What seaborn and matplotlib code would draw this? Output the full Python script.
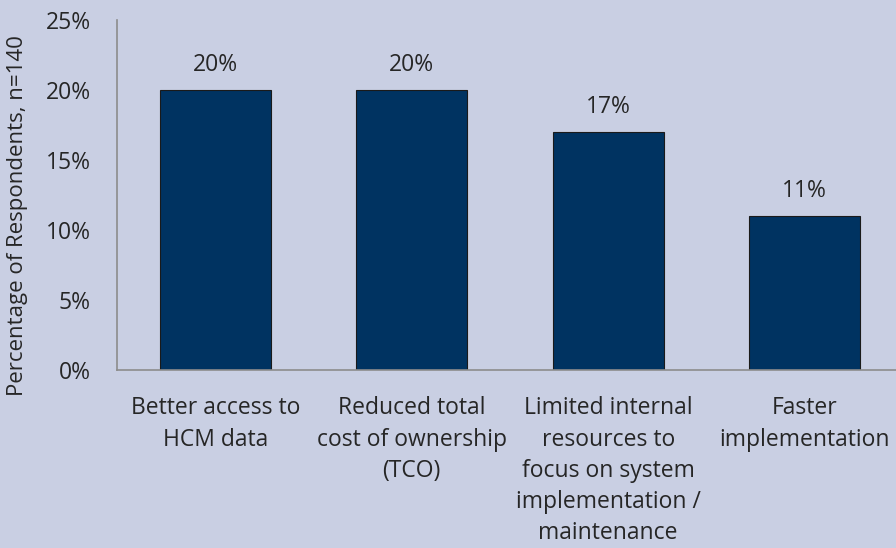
import matplotlib
matplotlib.use("Agg")
import matplotlib.pyplot as plt
import seaborn as sns
import pandas as pd

categories = [
    "Better access to\nHCM data",
    "Reduced total\ncost of ownership\n(TCO)",
    "Limited internal\nresources to\nfocus on system\nimplementation /\nmaintenance",
    "Faster\nimplementation",
]
values = [20, 20, 17, 11]
y_ticks = [0, 5, 10, 15, 20, 25]
y_label = "Percentage of Respondents, n=140"

bg = "#C9CFE3"
bar_color = "#003361"
text_color = "#262626"
fs = 16.5

sns.set_theme(style="white")
plt.rcParams["font.family"] = ["Open Sans", "DejaVu Sans"]

df = pd.DataFrame({"category": categories, "value": values})

fig = plt.figure(figsize=(8.96, 5.48), dpi=100, facecolor=bg)
ax = fig.add_axes([0.1306, 0.3248, 0.877, 0.6387])
ax.set_facecolor(bg)

sns.barplot(data=df, x="category", y="value", color=bar_color, width=0.565,
            edgecolor="#1a1a1a", linewidth=0.8, saturation=1, ax=ax)

for patch, v in zip(ax.patches, values):
    ax.text(patch.get_x() + patch.get_width() / 2, v + 0.9, f"{v}%",
            ha="center", va="bottom", fontsize=fs, color=text_color)

ax.set_ylim(0, 25)
ax.set_yticks(y_ticks)
ax.set_yticklabels([f"{t}%" for t in y_ticks], fontsize=fs, color=text_color)
ax.set_xticks(range(len(categories)))
ax.set_xticklabels(categories, fontsize=fs, color=text_color, linespacing=1.4)
ax.tick_params(axis="both", length=0)
ax.tick_params(axis="x", pad=19)
ax.tick_params(axis="y", pad=19)
ax.set_xlabel("")
ax.set_ylabel(y_label, fontsize=16, color=text_color)
ax.yaxis.set_label_coords(-0.113, 0.44)

for side in ("top", "right"):
    ax.spines[side].set_visible(False)
for side in ("left", "bottom"):
    ax.spines[side].set_color("#8c8c8c")
    ax.spines[side].set_linewidth(1.2)

fig.savefig("out.png", dpi=100, facecolor=bg)
